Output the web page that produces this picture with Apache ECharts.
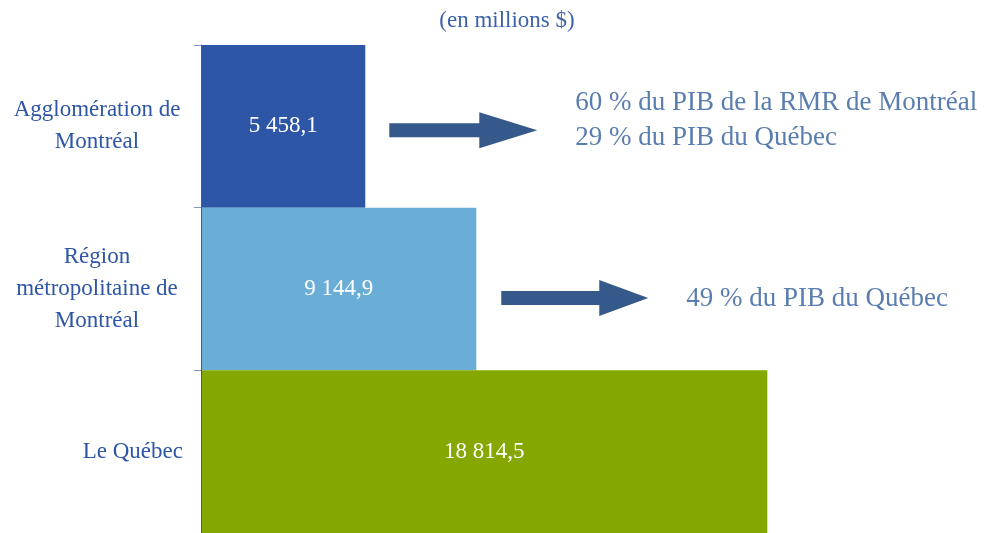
<!DOCTYPE html>
<html>
<head>
<meta charset="utf-8">
<script src="https://cdn.jsdelivr.net/npm/echarts@6/dist/echarts.min.js"></script>
<style>
  html, body { margin: 0; padding: 0; background: #fff; }
  #chart { width: 991px; height: 533px; }
</style>
</head>
<body>
<div id="chart"></div>
<script>
const categories = ['Agglomération de\nMontréal', 'Région\nmétropolitaine de\nMontréal', 'Le Québec']
const values = [5458.1, 9144.9, 18814.5]
const barColors = ['#2E56A6', '#6AAED8', '#84A800']
const notes = ['60 % du PIB de la RMR de Montréal\n29 % du PIB du Québec', '49 % du PIB du Québec']
const titleText = '(en millions $)'

const serif = '"Liberation Serif", "DejaVu Serif", serif'

const fmt = v => {
  const [i, d] = v.toFixed(1).split('.')
  return i.replace(/\B(?=(\d{3})+(?!\d))/g, ' ') + ',' + d
}

const chart = echarts.init(document.getElementById('chart'))

const option = {
  animation: false,
  title: {
    text: titleText,
    left: 502,
    textAlign: 'center',
    top: 4,
    textStyle: { fontFamily: serif, fontSize: 23, fontWeight: 'normal', color: '#3C63AA' }
  },
  grid: { left: 201, top: 45, bottom: 0, right: 188 },
  xAxis: { type: 'value', min: 0, max: 20000, show: false },
  yAxis: {
    type: 'category',
    inverse: true,
    data: categories,
    z: 5,
    axisLine: { show: true, lineStyle: { color: '#3A5DA8', width: 1 } },
    axisTick: { show: true, length: 7, lineStyle: { color: '#7F97C8' } },
    axisLabel: {
      margin: 18,
      formatter: v => v.indexOf('\n') >= 0 ? '{c|' + v + '}' : '{r|' + v + '}',
      rich: {
        c: { fontFamily: serif, fontSize: 23, color: '#2E56A6', lineHeight: 32, width: 172, align: 'center' },
        r: { fontFamily: serif, fontSize: 23, color: '#2E56A6', lineHeight: 32 }
      }
    }
  },
  series: [{
    type: 'bar',
    barCategoryGap: 0,
    data: values.map((v, i) => ({ value: v, itemStyle: { color: barColors[i] } })),
    label: {
      show: true,
      position: 'inside',
      formatter: p => fmt(p.value),
      color: '#fff',
      fontFamily: serif,
      fontSize: 23
    }
  }]
}

chart.setOption(option)

// arrows + notes placed from the bar ends
const arrowSpecs = [
  { bar: 0, gap: 24, dy: 4, shaft: 90, head: 58, textGap: 38, textDy: -10 },
  { bar: 1, gap: 25, dy: 9, shaft: 98, head: 49, textGap: 38, textDy: 1 }
]
const graphics = []
arrowSpecs.forEach((a, k) => {
  const xEnd = chart.convertToPixel({ xAxisIndex: 0 }, values[a.bar])
  const yc = chart.convertToPixel({ yAxisIndex: 0 }, a.bar) + a.dy
  const x0 = xEnd + a.gap
  const x1 = x0 + a.shaft
  const x2 = x1 + a.head
  graphics.push({
    type: 'polygon',
    shape: {
      points: [
        [x0, yc - 7], [x1, yc - 7], [x1, yc - 18], [x2, yc],
        [x1, yc + 18], [x1, yc + 7], [x0, yc + 7]
      ]
    },
    style: { fill: '#36598B' }
  })
  graphics.push({
    type: 'text',
    x: x2 + a.textGap,
    y: yc + a.textDy,
    style: {
      text: notes[k],
      fontFamily: serif,
      fontSize: 27,
      lineHeight: 35,
      fill: '#5A7DB0',
      verticalAlign: 'middle',
      align: 'left'
    }
  })
})
chart.setOption({ graphic: graphics })
</script>
</body>
</html>
